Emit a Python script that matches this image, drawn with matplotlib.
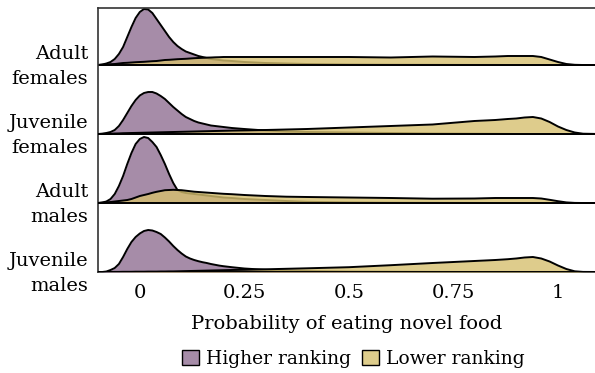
import numpy as np
import matplotlib
matplotlib.use("Agg")
import matplotlib.pyplot as plt
import matplotlib.transforms as mtransforms
from matplotlib.patches import Patch

plt.rcParams['font.family'] = ['DejaVu Serif']

prob = [-0.10, -0.09, -0.08, -0.07, -0.06, -0.05, -0.04, -0.03, -0.02, -0.01,
        0.00, 0.01, 0.02, 0.03, 0.04, 0.05, 0.06, 0.07, 0.08, 0.09,
        0.10, 0.11, 0.12, 0.13, 0.14, 0.15, 0.16, 0.17, 0.18, 0.19,
        0.20, 0.22, 0.25, 0.30, 0.35, 0.40, 0.50, 0.60, 0.70, 0.80,
        0.85, 0.88, 0.90, 0.92, 0.94, 0.96, 0.98, 1.00, 1.02, 1.04,
        1.06, 1.10]

groups = ['Adult\nfemales', 'Juvenile\nfemales', 'Adult\nmales', 'Juvenile\nmales']

# density heights, higher ranking individuals
higher_af = [0, 0.5, 1.5, 3, 6, 11, 18, 28, 38, 47,
             53, 56, 55.5, 52, 46, 40, 34, 28, 23, 19,
             16, 13.5, 12, 10.5, 9, 8, 7, 6, 5.5, 5,
             4.5, 4, 3, 2, 1.5, 1, 0.5, 0.3, 0.2, 0.1,
             0.1, 0, 0, 0, 0, 0, 0, 0, 0, 0,
             0, 0]
higher_jf = [0, 0.3, 1, 2, 4, 8, 14, 21, 28, 34,
             38.5, 41, 42, 42, 40.5, 38, 35, 31, 27, 23.5,
             20, 17, 15, 13, 11.5, 10.5, 9.5, 8.5, 8, 7.5,
             7, 6, 5, 3.5, 2.5, 2, 1.5, 1, 0.5, 0.3,
             0.2, 0.1, 0, 0, 0, 0, 0, 0, 0, 0,
             0, 0]
higher_am = [0, 0.5, 1.5, 4, 9, 17, 27, 39, 50, 59,
             64, 66, 65, 61, 56, 48, 39, 29, 20, 13,
             11, 10, 9.5, 9, 8.5, 8, 7.5, 7, 6.5, 6,
             5.5, 5, 4, 3, 2, 1.2, 0.6, 0.3, 0.2, 0.1,
             0, 0, 0, 0, 0, 0, 0, 0, 0, 0,
             0, 0]
higher_jm = [0, 0, 0.5, 2, 4, 8, 15, 23, 30, 35,
             38.5, 41, 42, 41.5, 40, 38, 34.5, 30.5, 26, 22,
             18.5, 15.5, 13.5, 12, 10.8, 9.8, 9, 8, 7.2, 6.4,
             5.8, 4.8, 3.5, 2.2, 1.5, 1, 0.5, 0.3, 0.1, 0,
             0, 0, 0, 0, 0, 0, 0, 0, 0, 0,
             0, 0]

# density heights, lower ranking individuals
lower_af = [0, 0.3, 0.5, 0.8, 1, 1.5, 2, 2.2, 2.5, 2.8,
            3, 3.2, 3.5, 3.8, 4, 4.5, 5, 5.2, 5.5, 5.8,
            6, 6.2, 6.5, 6.8, 7, 7.2, 7.4, 7.5, 7.7, 7.8,
            8, 8, 8, 8, 8, 8, 8, 7.5, 8.5, 8,
            8.5, 9, 9, 9, 9, 8, 5.5, 3, 1, 0.2,
            0, 0]
lower_jf = [0, 0.1, 0.2, 0.3, 0.5, 0.6, 0.8, 0.9, 1, 1.1,
            1.2, 1.3, 1.4, 1.5, 1.6, 1.7, 1.8, 1.9, 2, 2.1,
            2.2, 2.3, 2.4, 2.5, 2.6, 2.7, 2.8, 2.9, 3, 3.1,
            3.2, 3.4, 3.6, 4, 4.5, 5, 6.5, 8, 9.5, 13,
            14, 15, 15.5, 16.5, 17, 15.5, 12, 7.5, 4, 1.5,
            0.3, 0]
lower_am = [0, 0.3, 0.6, 1, 1.5, 2, 2.5, 3, 4, 5.5,
            7, 8, 9, 10.2, 11.2, 12, 12.8, 13, 13.2, 13,
            12.8, 12.3, 11.8, 11.3, 11, 10.7, 10.4, 10.1, 9.8, 9.5,
            9.2, 8.8, 8, 7, 6.3, 6, 5.5, 5, 4.3, 4.5,
            5, 5, 5, 5, 5, 4.5, 3.2, 1.8, 0.6, 0.1,
            0, 0]
lower_jm = [0, 0, 0, 0.1, 0.1, 0.1, 0.2, 0.2, 0.2, 0.3,
            0.3, 0.3, 0.4, 0.4, 0.4, 0.5, 0.5, 0.6, 0.6, 0.7,
            0.8, 0.9, 1, 1.1, 1.2, 1.3, 1.4, 1.5, 1.6, 1.7,
            1.8, 2, 2.2, 2.7, 3.2, 3.7, 4.8, 6.8, 9, 11,
            12, 12.8, 13.5, 14.5, 15, 13.5, 10.5, 6.5, 3, 0.7,
            0.1, 0]

higher = [higher_af, higher_jf, higher_am, higher_jm]
lower = [lower_af, lower_jf, lower_am, lower_jm]

xticks = [0, 0.25, 0.5, 0.75, 1]
xticklabels = ['0', '0.25', '0.5', '0.75', '1']

purple = '#a68ca8'
yellow = '#d6c06f'
spacing = 69

fig = plt.figure(figsize=(5.95, 3.73), dpi=100)
ax = fig.add_axes([98 / 595, 101 / 373, 497 / 595, 264 / 373])

x = np.array(prob)
n = len(groups)
for i, g in enumerate(groups):
    base = (n - 1 - i) * spacing
    hi = base + np.array(higher[i])
    lo = base + np.array(lower[i])
    ax.fill_between(x, base, hi, color=purple, lw=0, zorder=2 + i)
    ax.plot(x, hi, color='black', lw=1.4, solid_joinstyle='round', zorder=2 + i)
    ax.fill_between(x, base, lo, color=yellow, alpha=0.8, lw=0, zorder=2 + i)
    ax.plot(x, lo, color='black', lw=1.4, solid_joinstyle='round', zorder=2 + i)
    ax.axhline(base, color='black', lw=1.4, zorder=2 + i)

ax.set_xlim(-0.1, (595 - 140) / 418)
ax.set_ylim(0, 264)
ax.set_xticks(xticks)
ax.set_xticklabels(xticklabels, fontsize=14)
ax.set_yticks([(n - 1 - i) * spacing for i in range(n)])
ax.set_yticklabels(groups, fontsize=14, linespacing=1.5)
ax.tick_params(length=0)
ax.tick_params(axis='x', pad=9)
ax.tick_params(axis='y', pad=7)
ax.set_xlabel('Probability of eating novel food', fontsize=14, labelpad=9)

# nudge the group labels up a little so they sit centred on the baselines
shift = mtransforms.ScaledTranslation(0, 3 / 72, fig.dpi_scale_trans)
for lab in ax.get_yticklabels():
    lab.set_transform(lab.get_transform() + shift)

ax.spines['right'].set_visible(False)
for s in ['left', 'top', 'bottom']:
    ax.spines[s].set_linewidth(1.2)
    ax.spines[s].set_color('#333333')

handles = [Patch(facecolor=purple, edgecolor='black', label='Higher ranking'),
           Patch(facecolor='#decd8c', edgecolor='black', label='Lower ranking')]
fig.legend(handles=handles, loc='lower center', bbox_to_anchor=(0.594, -0.032), ncol=2,
           frameon=False, fontsize=13.5, handlelength=0.9, handleheight=0.9,
           handletextpad=0.4, columnspacing=0.55)

fig.savefig('out.png', dpi=100)
